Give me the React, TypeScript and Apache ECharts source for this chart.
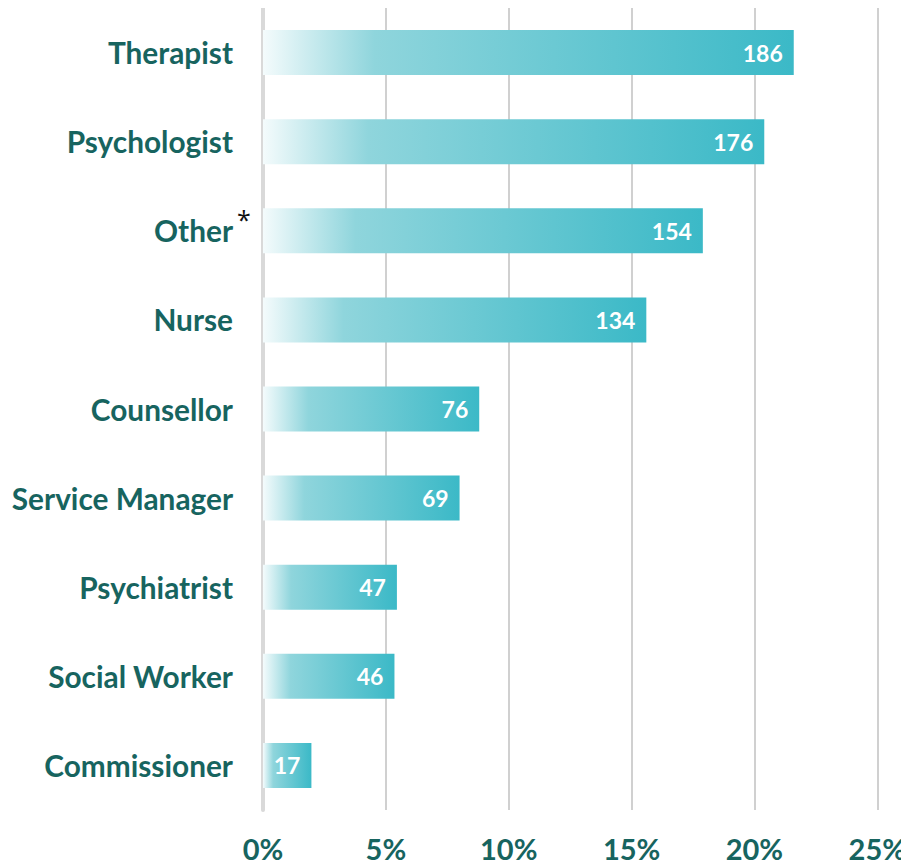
import React, { useEffect, useRef } from "react";
import * as echarts from "echarts";

const categories = [
  "Therapist",
  "Psychologist",
  "Other",
  "Nurse",
  "Counsellor",
  "Service Manager",
  "Psychiatrist",
  "Social Worker",
  "Commissioner",
];
const percentValues = [21.6, 20.4, 17.9, 15.6, 8.8, 8.0, 5.45, 5.35, 1.97];
const countLabels = [186, 176, 154, 134, 76, 69, 47, 46, 17];
const xTicks = [0, 5, 10, 15, 20, 25];

const TEAL_DARK = "#17645f";
const FONT = "Lato";

export default function App() {
  const ref = useRef<HTMLDivElement>(null);
  useEffect(() => {
    if (!ref.current) return;
    const chart = echarts.init(ref.current, undefined, { renderer: "svg" });
    const grad = new echarts.graphic.LinearGradient(0, 0, 1, 0, [
      { offset: 0, color: "#f4fbfc" },
      { offset: 0.21, color: "#8fd5dc" },
      { offset: 1, color: "#3bb9c7" },
    ]);
    chart.setOption({
      animation: false,
      grid: { left: 263, right: 28, top: 8, bottom: 55, containLabel: false },
      xAxis: {
        type: "value",
        min: xTicks[0],
        max: xTicks[xTicks.length - 1],
        interval: 5,
        axisLine: { show: false },
        axisTick: { show: false },
        splitLine: { show: true, lineStyle: { color: "#d0d0d0", width: 2 } },
        axisLabel: {
          formatter: (v: number) => `${v}%`,
          color: TEAL_DARK,
          fontFamily: FONT,
          fontWeight: "bold",
          fontSize: 29,
          margin: 24,
        },
      },
      yAxis: {
        type: "category",
        data: categories,
        inverse: true,
        axisLine: { show: true, lineStyle: { color: "#d9d9d9", width: 4 } },
        axisTick: { show: false },
        axisLabel: {
          color: TEAL_DARK,
          fontFamily: FONT,
          fontWeight: "bold",
          fontSize: 29.8,
          margin: 30,
        },
      },
      series: [
        {
          type: "bar",
          data: percentValues,
          barWidth: 45,
          itemStyle: { color: grad },
          label: {
            show: true,
            position: "insideRight",
            offset: [-6, 0],
            color: "#ffffff",
            fontFamily: FONT,
            fontWeight: "bold",
            fontSize: 23,
            formatter: (p: any) => String(countLabels[p.dataIndex]),
          },
        },
      ],
      graphic: [
        {
          type: "text",
          left: 237,
          top: 206,
          style: {
            text: "*",
            fill: "#111111",
            fontFamily: "Open Sans",
            fontSize: 25,
          },
        },
      ],
    });
    return () => chart.dispose();
  }, []);
  return <div ref={ref} style={{ width: 909, height: 865, marginLeft: -8, marginTop: -8 }} />;
}
